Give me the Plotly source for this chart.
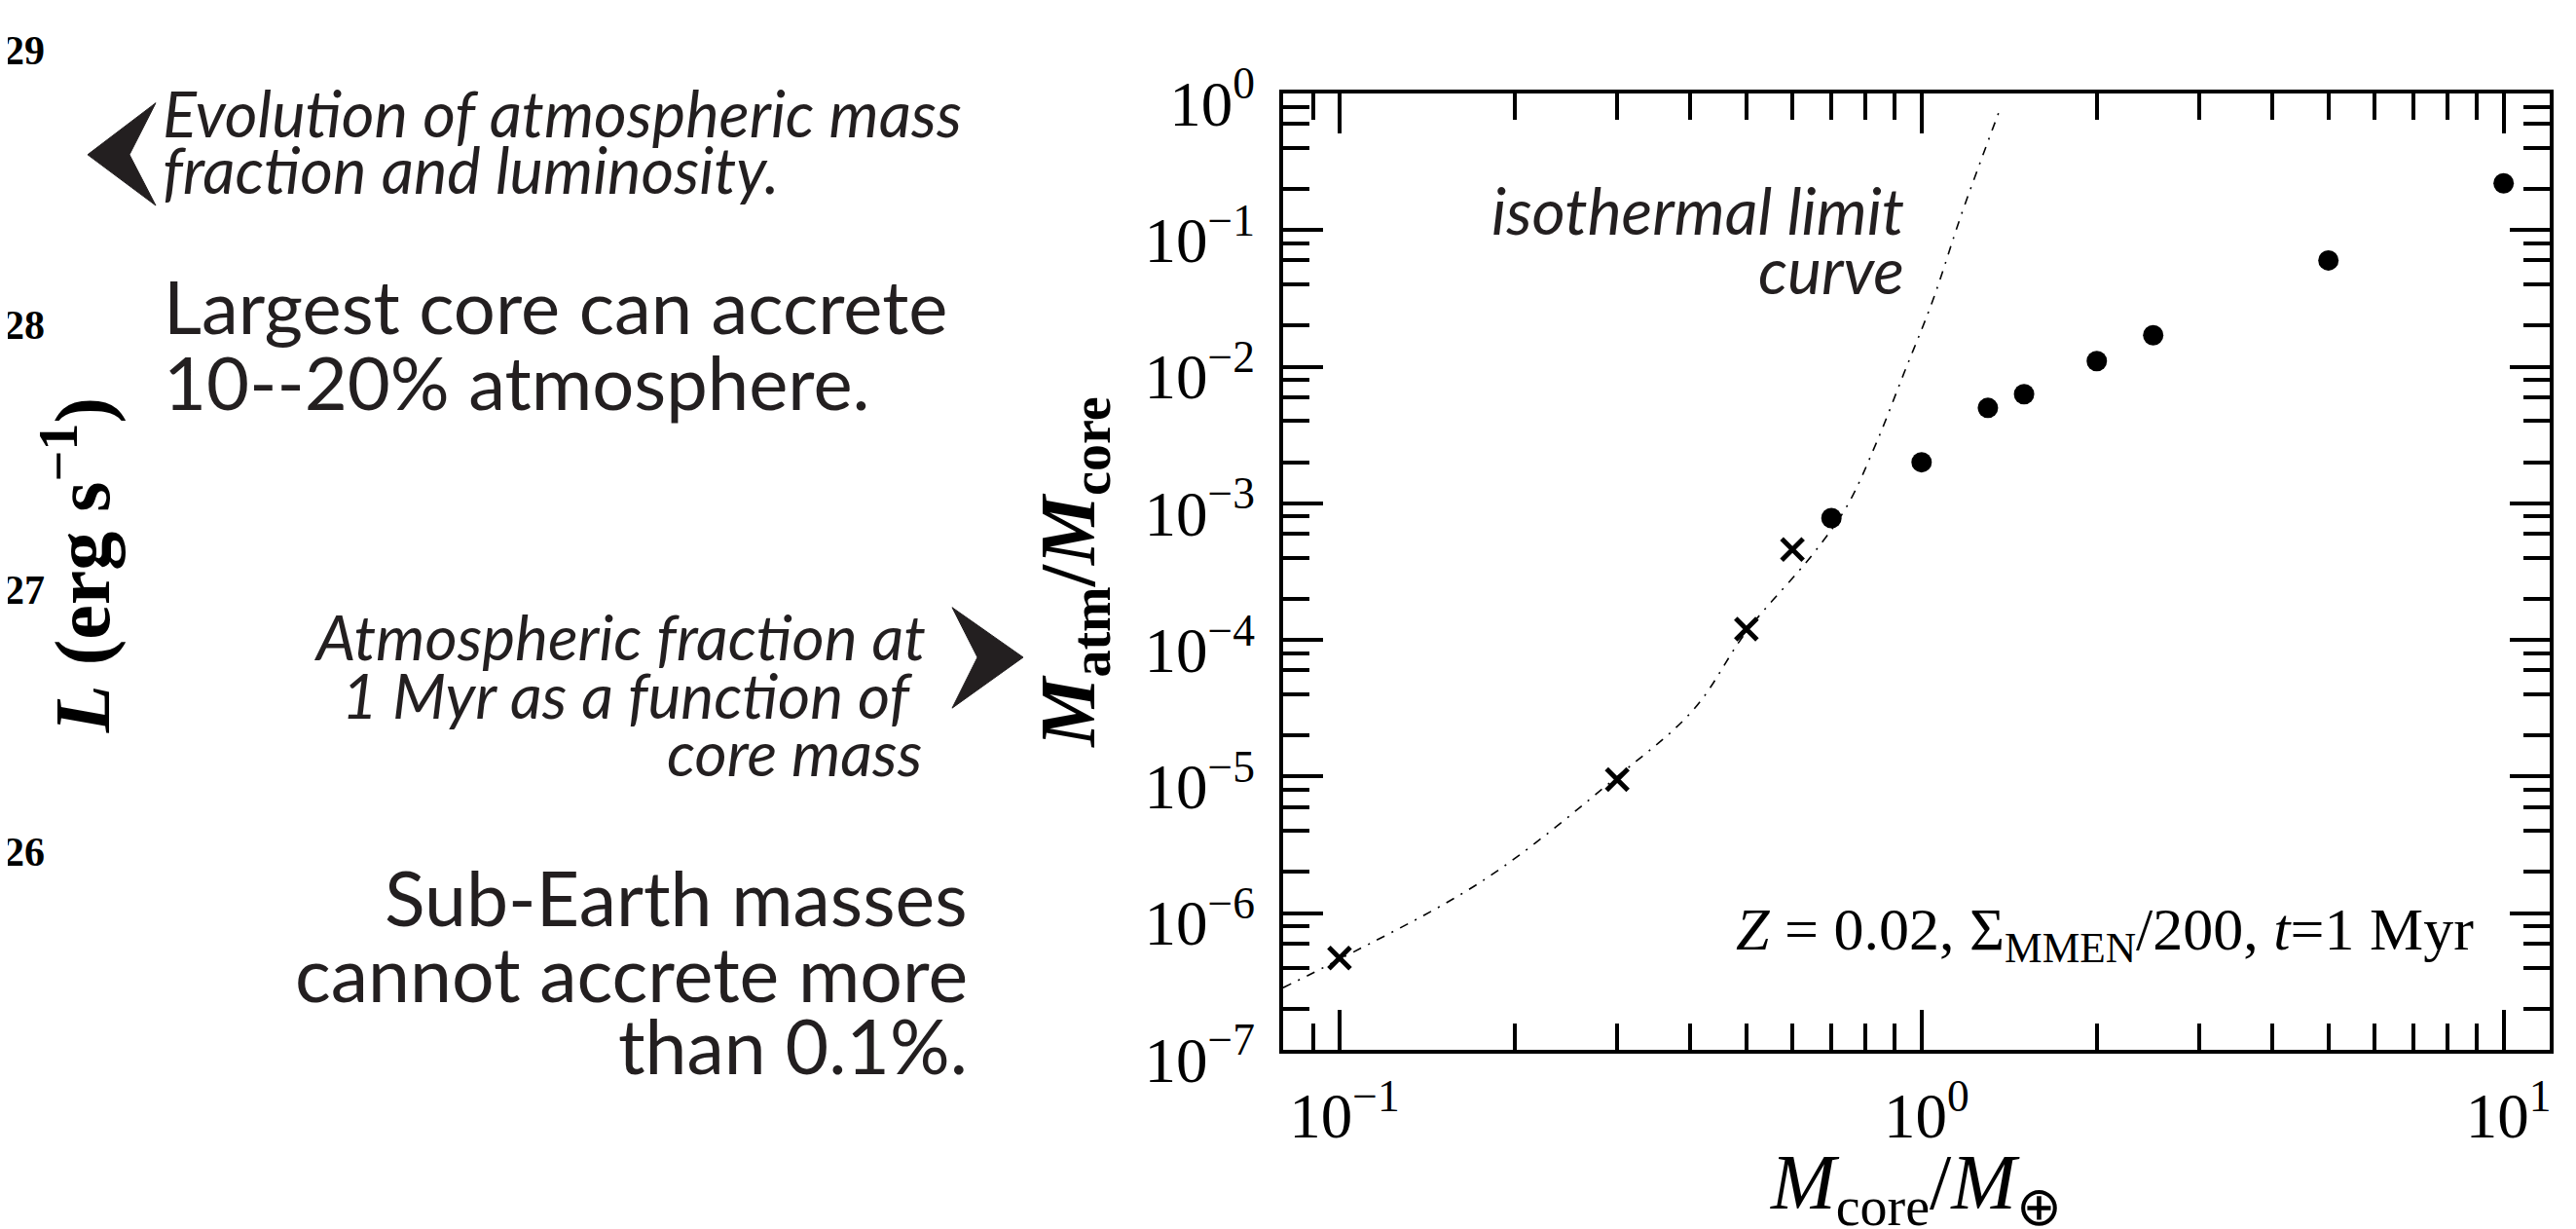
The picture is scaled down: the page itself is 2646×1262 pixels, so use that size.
import math
import plotly.graph_objects as go

# ---------------- data ----------------
core_mass_dots = [0.7, 1.0, 1.3, 1.5, 2.0, 2.5, 5.0, 10.0]
atm_frac_dots = [7.8e-4, 2.0e-3, 5.0e-3, 6.3e-3, 1.1e-2, 1.7e-2, 6.0e-2, 2.2e-1]

core_mass_cross = [0.1, 0.3, 0.5, 0.6]
atm_frac_cross = [4.7e-7, 9.5e-6, 1.2e-4, 4.6e-4]

iso_mass = [0.08, 0.1, 0.177, 0.3, 0.406, 0.5, 0.652, 0.745, 0.834, 0.934, 1.046, 1.172, 1.364]
iso_frac = [2.85e-7, 4.6e-7, 1.75e-6, 1.0e-5, 3.1e-5, 1.15e-4, 4.3e-4, 9.6e-4, 2.7e-3, 9.1e-3, 3.08e-2, 1.32e-1, 7.7e-1]

x_tick_vals = [0.1, 1, 10]
x_tick_text = ["10<sup>−1</sup>", "10<sup>0</sup>", "10<sup>1</sup>"]
y_tick_vals = [1e-7, 1e-6, 1e-5, 1e-4, 1e-3, 1e-2, 1e-1, 1]
y_tick_text = ["10<sup>−7</sup>", "10<sup>−6</sup>", "10<sup>−5</sup>", "10<sup>−4</sup>",
               "10<sup>−3</sup>", "10<sup>−2</sup>", "10<sup>−1</sup>", "10<sup>0</sup>"]
x_range = [0.08, 12]
y_range = [1e-7, 1]

x_minor_subs = [2, 3, 4, 5, 6, 7, 8, 9]
y_minor_subs = [2, 4, 6, 8]

# ---------------- geometry helpers ----------------
W_FIG, H_FIG = 2646, 1262
L0, T0, R0, B0 = 1310, 88, 2611, 1104
PW, PH = R0 - L0, B0 - T0


def px(x):
    return (x - L0) / PW


def py(y):
    return (B0 - y) / PH


INK = "#231f20"
SANS = "Lato"
SERIF = "Liberation Serif"

x_minor = [s * 10 ** d for d in range(-2, 2) for s in x_minor_subs]
x_minor = [v for v in x_minor if x_range[0] < v < x_range[1]]
y_minor = [s * 10 ** d for d in range(-7, 0) for s in y_minor_subs]

fig = go.Figure()

fig.add_trace(go.Scatter(
    x=iso_mass, y=iso_frac, mode="lines", line_shape="spline",
    line=dict(color="black", width=1.6, dash="9px,8px,2px,8px"),
    hoverinfo="skip", showlegend=False))

fig.add_trace(go.Scatter(
    x=core_mass_cross, y=atm_frac_cross, mode="markers",
    marker=dict(symbol="x-thin", size=22, line=dict(color="black", width=5)),
    showlegend=False))

fig.add_trace(go.Scatter(
    x=core_mass_dots, y=atm_frac_dots, mode="markers",
    marker=dict(symbol="circle", size=21, color="black"),
    showlegend=False))

axis_common = dict(
    type="log", showline=True, linewidth=4, linecolor="black", mirror="ticks",
    ticks="inside", ticklen=41, tickwidth=4, tickcolor="black",
    showgrid=False, zeroline=False,
    tickfont=dict(family=SERIF, size=65, color="black"),
)

fig.update_xaxes(
    **axis_common,
    range=[math.log10(x_range[0]), math.log10(x_range[1])],
    tickmode="array", tickvals=x_tick_vals, ticktext=x_tick_text,
    minor=dict(tickmode="array", tickvals=x_minor, ticks="inside", ticklen=27,
               tickwidth=4, tickcolor="black", showgrid=False),
    ticklabelstandoff=8, ticklabelshift=5,
    title=dict(text="<i>M</i><sub>core</sub>/<i>M</i><sub>⊕</sub>",
               font=dict(family=SERIF, size=80, color="black"), standoff=20),
)

fig.update_yaxes(
    **axis_common,
    range=[math.log10(y_range[0]), math.log10(y_range[1])],
    tickmode="array", tickvals=y_tick_vals, ticktext=y_tick_text,
    minor=dict(tickmode="array", tickvals=y_minor, ticks="inside", ticklen=27,
               tickwidth=4, tickcolor="black", showgrid=False),
    ticklabelstandoff=12, ticklabelshift=10,
    title=dict(text="<b><i>M</i><sub>atm</sub>/<i>M</i><sub>core</sub></b>",
               font=dict(family=SERIF, size=80, color="black"), standoff=26),
)

annotations = []


def line_text(text, x, baseline, size, anchor, italic=False, family=SANS, k=0.387, color=INK):
    t = f"<i>{text}</i>" if italic else text
    annotations.append(dict(
        text=t, x=px(x), y=py(baseline - k * size), xref="paper", yref="paper",
        xanchor=anchor, yanchor="middle", showarrow=False,
        font=dict(family=family, size=size, color=color)))


# left-hand explanatory text
line_text("Evolution of atmospheric mass", 157, 134, 65, "left", italic=True)
line_text("fraction and luminosity.", 157, 194, 65, "left", italic=True)
line_text("Largest core can accrete", 158, 342, 76, "left")
line_text("10--20% atmosphere.", 158, 423, 76, "left")
line_text("Atmospheric fraction at", 945, 690, 64, "right", italic=True)
line_text("1 Myr as a function of", 932, 752, 64, "right", italic=True)
line_text("core mass", 941, 813, 64, "right", italic=True)
line_text("Sub-Earth masses", 988, 971, 77, "right")
line_text("cannot accrete more", 988, 1052, 77, "right")
line_text("than 0.1%.", 988, 1129, 77, "right")

# in-plot labels
line_text("isothermal limit", 1950, 237, 66, "right", italic=True)
line_text("curve", 1950, 300, 66, "right", italic=True)
line_text("<i>Z</i> = 0.02, Σ<sub>MMEN</sub>/200, <i>t</i>=1 Myr", 2535, 1001, 62, "right",
          family=SERIF, k=0.3375, color="black")

# remnants of the neighbouring panel on the far left
for lab, yc in [("29", 42), ("28", 334), ("27", 616), ("26", 894)]:
    annotations.append(dict(
        text=f"<b>{lab}</b>", x=px(40), y=py(yc), xref="paper", yref="paper",
        xanchor="right", yanchor="middle", showarrow=False,
        font=dict(family=SERIF, size=42, color="black")))

annotations.append(dict(
    text="<b><i>L</i> (erg s<sup>−1</sup>)</b>", x=px(72), y=py(590),
    xref="paper", yref="paper", xanchor="center", yanchor="middle",
    textangle=-90, showarrow=False,
    font=dict(family=SERIF, size=80, color="black")))


def chevron(points):
    d = "M " + " L ".join(f"{px(a):.5f},{py(b):.5f}" for a, b in points) + " Z"
    return dict(type="path", path=d, xref="paper", yref="paper",
                fillcolor=INK, line=dict(color=INK, width=1), layer="above")


shapes = [
    chevron([(152, 98), (82, 153), (152, 207), (125, 153)]),
    chevron([(970, 634), (1043, 687), (970, 741), (996, 687)]),
]

fig.update_layout(
    width=W_FIG, height=H_FIG,
    margin=dict(l=L0, r=W_FIG - R0, t=T0, b=H_FIG - B0, pad=0),
    paper_bgcolor="white", plot_bgcolor="white",
    showlegend=False,
    annotations=annotations, shapes=shapes,
)

fig.write_html("out.html")
